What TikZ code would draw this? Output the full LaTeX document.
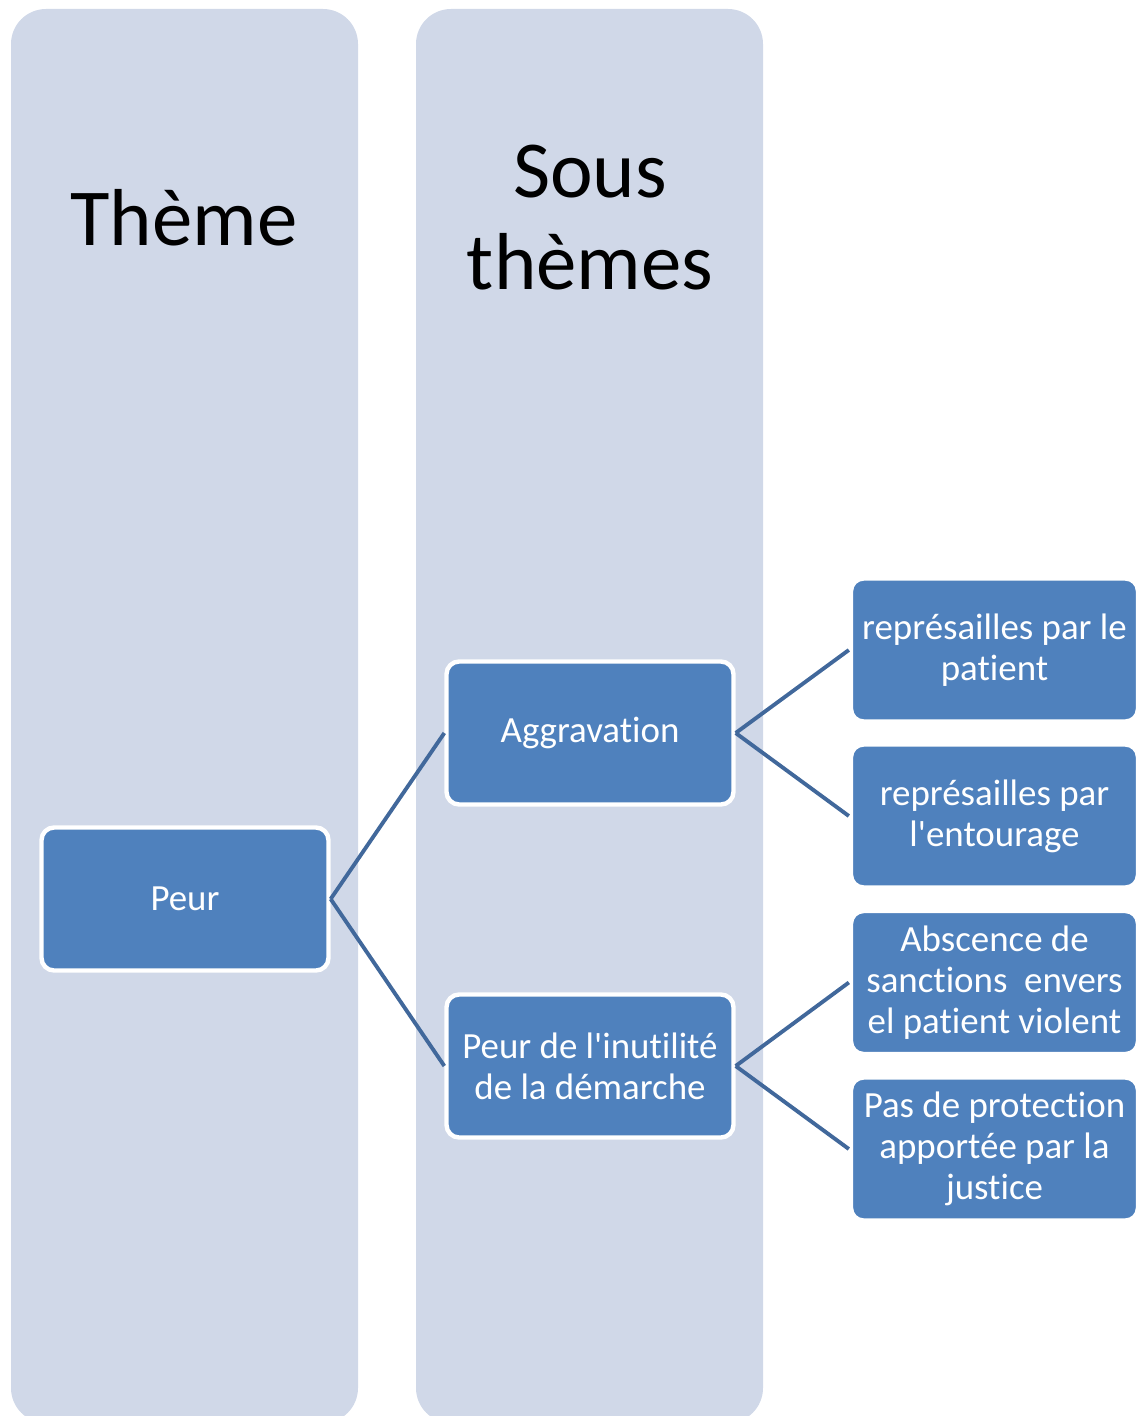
\documentclass[tikz,border=0pt]{standalone}
\usepackage{fontspec}
\setmainfont{Carlito}[Ligatures={NoCommon}]
\usepackage{xcolor}
\usepackage{tikz}
\definecolor{columncolor}{RGB}{208,216,232}
\definecolor{boxcolor}{RGB}{79,129,189}
\definecolor{linkcolor}{RGB}{65,104,155}

\begin{document}
\begin{tikzpicture}[x=0.02cm, y=-0.02cm,
    column/.style={fill=columncolor, rounded corners=0.7cm},
    title/.style={inner sep=0pt, align=center, font=\fontsize{46}{52.4}\selectfont},
    themebox/.style={draw=white, line width=2.5pt, fill=boxcolor, rounded corners=0.25cm,
        text=white, align=center, inner sep=0pt, minimum width=5.74cm, minimum height=2.86cm,
        font=\fontsize{21}{23.3}\selectfont},
    link/.style={draw=linkcolor, line width=2.2pt}]
    \useasboundingbox (0,0) rectangle (1139,1416);
    \clip (0,0) rectangle (1139,1416);

    % Columns
    \fill[column] (11,9) rectangle (358,1423);
    \fill[column] (416,9) rectangle (763,1423);

    % Titles
    \node[title, anchor=base] (themetitle) at (184,245) {Thème};
    \node[title] (soustitle) at (590,218) {Sous\\thèmes};

    % Theme
    \node[themebox] (peur) at (185,899) {Peur};

    % Sub-themes
    \node[themebox] (aggravation) at (590,733) {Aggravation};
    \node[themebox] (inutilite) at (590,1066) {Peur de l\textquotesingle inutilité\\de la démarche};

    % Details
    \node[themebox] (patient) at (994.5,650) {représailles par le\\patient};
    \node[themebox] (entourage) at (994.5,816) {représailles par\\l\textquotesingle entourage};
    \node[themebox] (sanctions) at (994.5,982.5) {Abscence de\\sanctions~ envers\\el patient violent};
    \node[themebox] (justice) at (994.5,1149) {Pas de protection\\apportée par la\\justice};

    % Links
    \draw[link] (peur.east) -- (aggravation.west);
    \draw[link] (peur.east) -- (inutilite.west);
    \draw[link] (aggravation.east) -- (patient.west);
    \draw[link] (aggravation.east) -- (entourage.west);
    \draw[link] (inutilite.east) -- (sanctions.west);
    \draw[link] (inutilite.east) -- (justice.west);
\end{tikzpicture}
\end{document}
